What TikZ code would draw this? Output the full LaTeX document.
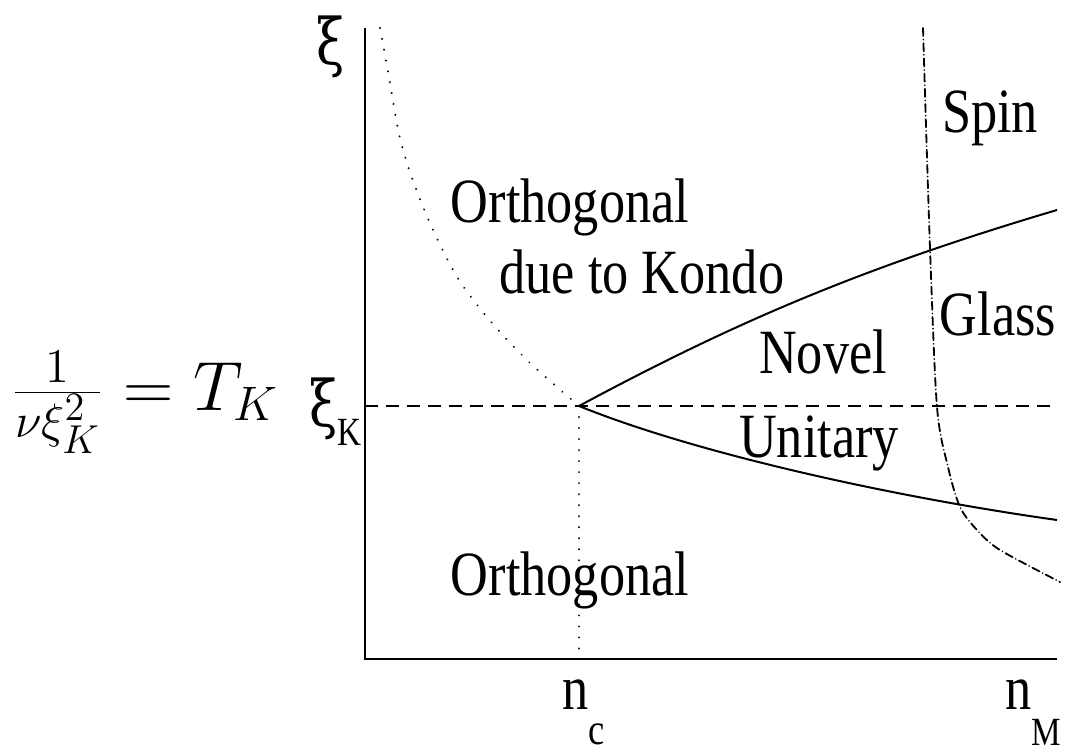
\documentclass[tikz,border=0pt]{standalone}
\usepackage{fontspec}
\setmainfont{Liberation Serif}[FakeStretch=0.83]
\newfontfamily\greekfont{DejaVu Serif}[FakeStretch=0.8]
\usetikzlibrary{positioning}
\tikzset{axis/.style={line width=1pt},boundary/.style={line width=1pt},
 crossover/.style={line width=0.7pt,dash pattern=on 6.5pt off 4pt},
 kondoline/.style={line width=1.1pt,dash pattern=on 0.01pt off 5.5pt,line cap=round},
 glassline/.style={line width=0.9pt,dash pattern=on 4pt off 1.8pt on 0.01pt off 1.8pt,line cap=round},
 region/.style={font=\fontsize{31.5}{36}\selectfont,anchor=base,inner sep=0pt},
 greek/.style={font=\greekfont\fontsize{32}{36}\selectfont,inner sep=0pt}}

\begin{document}
\begin{tikzpicture}[x=0.5pt,y=-0.5pt]
\useasboundingbox (0,0) rectangle (1066,749);
\coordinate (O) at (365,659);
\coordinate (ytop) at (365,28);
\coordinate (xend) at (1057,659);
\coordinate (crit) at (579,406);
\draw[axis] (ytop)--(O)--(xend);
\draw[crossover] (O|-crit)--(xend|-crit);
\draw[kondoline] (crit)--(crit|-O);
\draw[kondoline] plot[smooth] coordinates {(380,28) (389,77) (399,134) (412,178)
 (433,230) (459,280) (492,323) (530,363) (579,406)};
\draw[boundary] (crit) .. controls (739,320) and (865,267) .. (1057,210);
\draw[boundary] (crit) .. controls (700,455) and (900,498) .. (1057,520);
\draw[glassline] plot[smooth] coordinates {(923,28) (930,248) (937,407) (948,467)
 (960,507) (977,530) (1000,550) (1060,582)};
% regions
\node[region] (ortho) at (570,222) {Orthogonal};
\node[region] (kondo) at (642,293) {due to Kondo};
\node[region] (novel) at (823,373) {Novel};
\node[region] (unitary) at (819,457) {Unitary};
\node[region] (spin) at (990,133) {Spin};
\node[region] (glass) at (998,335) {Glass};
\node[region] (orthoLow) at (570,595) {Orthogonal};
% axis labels
\node[region,anchor=base west] (nc) at (562,709) {n\raisebox{-17.5pt}{\fontsize{22}{24}\selectfont c}};
\node[region,anchor=base west] (nM) at (1005,709) {n\raisebox{-18pt}{\fontsize{20}{24}\selectfont M}};
\node[greek,anchor=base] (xi) at (331,65) {ξ};
\node[greek,anchor=base east] (xiK) at (362,426) {ξ\raisebox{-9.5pt}{\rmfamily\fontsize{20}{24}\selectfont K}};
\node[font=\fontsize{20.74}{24}\selectfont,anchor=base,inner sep=0pt] (TK) at (145,410) {\scalebox{1.68}{$\frac{1}{\nu\xi_K^2}=T_K$}};
\end{tikzpicture}
\end{document}
